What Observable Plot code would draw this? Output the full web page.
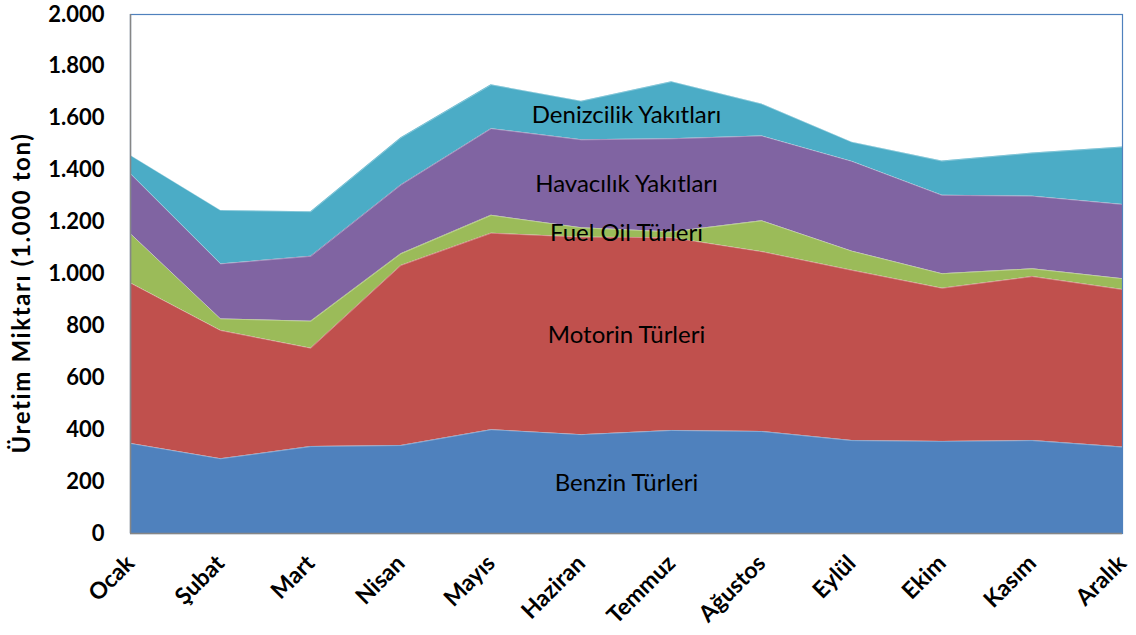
<!DOCTYPE html>
<html>
<head>
<meta charset="utf-8">
<script src="https://cdn.jsdelivr.net/npm/d3@7"></script>
<script src="https://cdn.jsdelivr.net/npm/@observablehq/plot@0.6"></script>
<style>
  html, body { margin: 0; padding: 0; background: #fff; }
  #chart svg { display: block; }
</style>
</head>
<body>
<div id="chart"></div>
<script>
const months = ["Ocak", "Şubat", "Mart", "Nisan", "Mayıs", "Haziran", "Temmuz", "Ağustos", "Eylül", "Ekim", "Kasım", "Aralık"];
const seriesNames = ["Benzin Türleri", "Motorin Türleri", "Fuel Oil Türleri", "Havacılık Yakıtları", "Denizcilik Yakıtları"];
const benzin     = [347, 288, 335, 339, 400, 381, 397, 393, 358, 355, 358, 333];
const motorin    = [618, 494, 379, 694, 757, 761, 743, 693, 656, 590, 632, 607];
const fuelOil    = [190, 45, 104, 45, 69, 36, 22, 119, 74, 56, 30, 42];
const havacilik  = [231, 212, 250, 265, 334, 339, 359, 327, 346, 302, 280, 286];
const denizcilik = [71, 206, 172, 182, 169, 149, 220, 123, 74, 132, 166, 221];
const yTicks = [0, 200, 400, 600, 800, 1000, 1200, 1400, 1600, 1800, 2000];
const colors = ["#4F81BD", "#C0504D", "#9BBB59", "#8064A2", "#4BACC6"];

const seriesValues = [benzin, motorin, fuelOil, havacilik, denizcilik];
const rows = [];
seriesNames.forEach((s, k) => {
  months.forEach((m, i) => rows.push({series: s, i, value: seriesValues[k][i]}));
});

// labels placed at the middle of each band, between Haziran and Temmuz
const labelRows = seriesNames.map((s, k) => {
  const mid = (i) => {
    let below = 0;
    for (let j = 0; j < k; j++) below += seriesValues[j][i];
    return below + seriesValues[k][i] / 2;
  };
  return {series: s, x: 5.5, y: (mid(5) + mid(6)) / 2};
});

const fmt = (d) => d3.format(",")(d).replace(/,/g, ".");

const chart = Plot.plot({
  width: 1136,
  height: 635,
  marginLeft: 130,
  marginRight: 14,
  marginTop: 14,
  marginBottom: 102,
  style: {fontFamily: "Lato, 'Open Sans', sans-serif", background: "#fff", overflow: "visible"},
  x: {type: "linear", domain: [0, 11], ticks: d3.range(12), tickFormat: (i) => months[i], label: null},
  y: {domain: [0, 2000], ticks: yTicks, tickFormat: fmt, label: null},
  color: {domain: seriesNames, range: colors},
  marks: [
    Plot.areaY(rows, {x: "i", y: "value", fill: "series", z: "series"}),
    Plot.lineY(rows, Plot.stackY2({x: "i", y: "value", z: "series", stroke: "#ffffff", strokeOpacity: 0.4, strokeWidth: 0.8})),
    Plot.frame({stroke: "#4F81BD", strokeWidth: 1.2}),
    Plot.ruleX([0], {stroke: "#868686", strokeWidth: 1.5}),
    Plot.ruleY([0], {stroke: "#868686", strokeWidth: 1.5}),
    Plot.axisY({ticks: yTicks, tickFormat: fmt, tickSize: 0, tickPadding: 26, fontSize: 22, fontWeight: "bold", fill: "#000", label: null, style: {letterSpacing: "1px"}}),
    Plot.axisX({ticks: d3.range(12), tickFormat: (i) => months[i], tickSize: 0, tickPadding: 26, tickRotate: -45, fontSize: 23, fontWeight: "bold", fill: "#000", label: null}),
    Plot.text(labelRows, {x: "x", y: "y", text: "series", fontSize: 24, fill: "#000", fontFamily: "Lato, sans-serif"})
  ]
});

// y-axis title
const svg = d3.select(chart);
svg.append("text")
  .attr("transform", "translate(20,293) rotate(-90)")
  .attr("text-anchor", "middle")
  .attr("dominant-baseline", "central")
  .attr("font-size", 24)
  .attr("letter-spacing", 1.6)
  .attr("font-weight", "bold")
  .attr("font-family", "Lato, sans-serif")
  .attr("fill", "#000")
  .text("Üretim Miktarı (1.000 ton)");

document.getElementById("chart").appendChild(chart);
</script>
</body>
</html>
